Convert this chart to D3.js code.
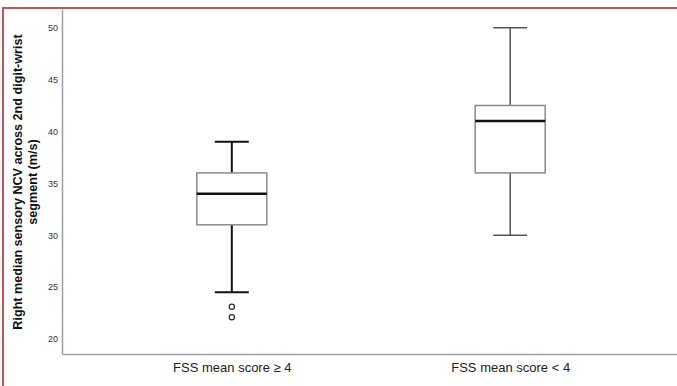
<!DOCTYPE html>
<html lang="en">
<head>
    <meta charset="UTF-8">
    <title>Boxplot NCV</title>
    <script src="https://d3js.org/d3.v7.min.js"></script>
    <style>
        body { margin: 0; background: #fff; }
        text { font-family: "Liberation Sans", Arial, sans-serif; }
    </style>
</head>
<body>
    <script>
        // categories and five-number summaries
        var groups = ["FSS mean score \u2265 4", "FSS mean score < 4"];
        var whiskerLow = [24.5, 30];
        var q1 = [31, 36];
        var median = [34, 41];
        var q3 = [36, 42.5];
        var whiskerHigh = [39, 50];
        var outliers = [[23.1, 22.1], []];
        var yTicks = [20, 25, 30, 35, 40, 45, 50];

        var width = 677, height = 386;
        var svg = d3.select("body").append("svg")
            .attr("width", width)
            .attr("height", height);

        var y = d3.scaleLinear().domain([18.55, 51.8]).range([354, 9]);
        var x = d3.scalePoint().domain(groups).range([62, 680]).padding(0.61);

        // frame of the original screenshot
        svg.append("line").attr("x1", 2).attr("x2", width).attr("y1", 8).attr("y2", 8)
            .attr("stroke", "#c0555a").attr("stroke-width", 2);
        svg.append("line").attr("x1", 3).attr("x2", 3).attr("y1", 8).attr("y2", height)
            .attr("stroke", "#c0555a").attr("stroke-width", 2);

        // axes
        var yAxis = d3.axisLeft(y).tickValues(yTicks).tickSize(0).tickPadding(4);
        var gy = svg.append("g").attr("transform", "translate(62,0)").call(yAxis);
        gy.select(".domain").attr("stroke", "#a0a0a0").attr("stroke-width", 1.5);
        gy.selectAll("text").attr("font-size", 9).attr("fill", "#333");

        var xAxis = d3.axisBottom(x).tickSize(0).tickPadding(9);
        var gx = svg.append("g").attr("transform", "translate(0,354)").call(xAxis);
        gx.select(".domain").attr("stroke", "#a0a0a0").attr("stroke-width", 1.5);
        gx.selectAll("text").attr("font-size", 13).attr("fill", "#222");

        // y title
        var title = svg.append("text")
            .attr("transform", "translate(18,182) rotate(-90)")
            .attr("text-anchor", "middle")
            .attr("font-size", 12.6)
            .attr("font-weight", "bold")
            .attr("fill", "#111");
        title.append("tspan").attr("x", 0).attr("dy", "0.35em").text("Right median sensory NCV across 2nd digit-wrist");
        title.append("tspan").attr("x", 0).attr("dy", "1.15em").text("segment (m/s)");

        var boxW = 70, capW = 34;
        var whiskerColor = ["#111", "#555"];
        var whiskerWidth = [2, 1.5];

        groups.forEach(function (g, i) {
            var cx = x(g);
            var gr = svg.append("g");
            gr.append("line").attr("x1", cx).attr("x2", cx)
                .attr("y1", y(whiskerHigh[i])).attr("y2", y(q3[i]))
                .attr("stroke", whiskerColor[i]).attr("stroke-width", whiskerWidth[i]);
            gr.append("line").attr("x1", cx).attr("x2", cx)
                .attr("y1", y(q1[i])).attr("y2", y(whiskerLow[i]))
                .attr("stroke", whiskerColor[i]).attr("stroke-width", whiskerWidth[i]);
            [whiskerHigh[i], whiskerLow[i]].forEach(function (v) {
                gr.append("line").attr("x1", cx - capW / 2).attr("x2", cx + capW / 2)
                    .attr("y1", y(v)).attr("y2", y(v))
                    .attr("stroke", whiskerColor[i]).attr("stroke-width", whiskerWidth[i]);
            });
            gr.append("rect")
                .attr("x", cx - boxW / 2).attr("width", boxW)
                .attr("y", y(q3[i])).attr("height", y(q1[i]) - y(q3[i]))
                .attr("fill", "#fff").attr("stroke", "#8a8a8a").attr("stroke-width", 1.5);
            gr.append("line").attr("x1", cx - boxW / 2).attr("x2", cx + boxW / 2)
                .attr("y1", y(median[i])).attr("y2", y(median[i]))
                .attr("stroke", "#111").attr("stroke-width", 2.5);
            outliers[i].forEach(function (v) {
                gr.append("circle").attr("cx", cx).attr("cy", y(v)).attr("r", 2.6)
                    .attr("fill", "none").attr("stroke", "#333").attr("stroke-width", 1.3);
            });
        });
    </script>
</body>
</html>
